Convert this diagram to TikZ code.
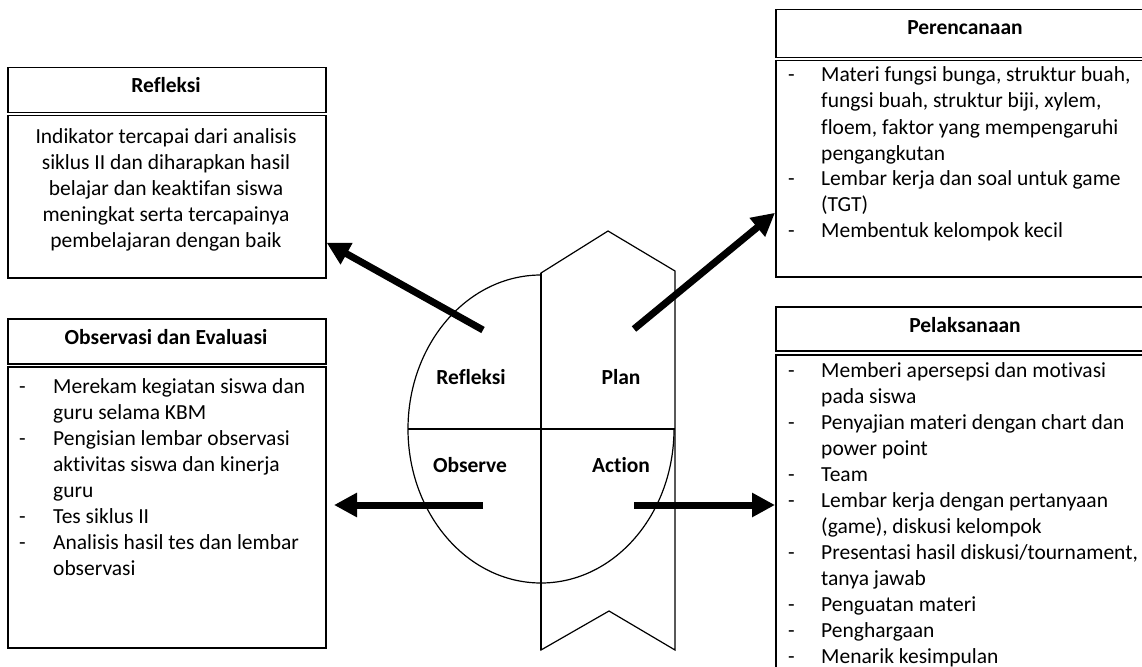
\documentclass[tikz,border=0pt]{standalone}
\usepackage{fontspec}
\setmainfont{Carlito}[Ligatures={NoCommon}]
\usetikzlibrary{arrows.meta}

\newcommand{\txtsize}{\fontsize{21.5}{26}\selectfont}
\tikzset{
  box/.style={rectangle, draw, line width=1.5pt, minimum width=318pt, anchor=north west, inner sep=0pt},
  widebox/.style={box, minimum width=380pt},
  head/.style={anchor=base, inner sep=0pt, font=\txtsize\bfseries},
  list/.style={anchor=base west, inner sep=0pt},
  bigarrow/.style={line width=7pt, -{Triangle[length=23pt,width=23pt]}},
}

\begin{document}
\begin{tikzpicture}[x=1pt, y=1pt, font=\txtsize]
\useasboundingbox (0,0) rectangle (1142,-666);
\clip (0,0) rectangle (1142,-666);

% Refleksi
\node (refTitle) [box, minimum height=45pt] at (7,-67) {};
\node (refHead) [head] at (166,-93) {Refleksi};
\node (refBody) [box, minimum height=162pt] at (7,-115) {};
\node (refText) [anchor=base, inner sep=0pt] at (166,-143) {\begin{tabular}[t]{@{}c@{}}
Indikator tercapai dari analisis\\
siklus II dan diharapkan hasil\\
belajar dan keaktifan siswa\\
meningkat serta tercapainya\\
pembelajaran dengan baik
\end{tabular}};

% Observasi dan Evaluasi
\node (obsTitle) [box, minimum height=45pt] at (7,-318) {};
\node (obsHead) [head] at (166,-344) {Observasi dan Evaluasi};
\node (obsBody) [box, minimum height=281pt] at (7,-366) {};
\node (obsText) [list] at (19,-393) {\begin{tabular}[t]{@{}p{34pt}@{}l@{}}
- & Merekam kegiatan siswa dan\\
  & guru selama KBM\\
- & Pengisian lembar observasi\\
  & aktivitas siswa dan kinerja\\
  & guru\\
- & Tes siklus II\\
- & Analisis hasil tes dan lembar\\
  & observasi
\end{tabular}};

% Perencanaan
\node (perTitle) [widebox, minimum height=48pt] at (775,-9) {};
\node (perHead) [head] at (965,-35) {Perencanaan};
\node (perBody) [widebox, minimum height=216pt] at (775,-60) {};
\node (perText) [list] at (788,-82) {\begin{tabular}[t]{@{}p{33pt}@{}l@{}}
- & Materi fungsi bunga, struktur buah,\\
  & fungsi buah, struktur biji, xylem,\\
  & floem, faktor yang mempengaruhi\\
  & pengangkutan\\
- & Lembar kerja dan soal untuk game\\
  & (TGT)\\
- & Membentuk kelompok kecil
\end{tabular}};

% Pelaksanaan
\node (pelTitle) [widebox, minimum height=44pt] at (775,-306) {};
\node (pelHead) [head] at (965,-332) {Pelaksanaan};
\node (pelBody) [widebox, minimum height=400pt] at (775,-354) {};
\node (pelText) [list] at (788,-377) {\begin{tabular}[t]{@{}p{33pt}@{}l@{}}
- & Memberi apersepsi dan motivasi\\
  & pada siswa\\
- & Penyajian materi dengan chart dan\\
  & power point\\
- & Team\\
- & Lembar kerja dengan pertanyaan\\
  & (game), diskusi kelompok\\
- & Presentasi hasil diskusi/tournament,\\
  & tanya jawab\\
- & Penguatan materi\\
- & Penghargaan\\
- & Menarik kesimpulan
\end{tabular}};

% circle and ribbon
\draw [line width=1.2pt, fill=white] (541,-273) -- (608,-231) -- (675,-271) -- (675,-650) -- (609,-611) -- (541,-650) -- cycle;
\draw [line width=1.2pt] (541,-275) arc[start angle=90, end angle=360, x radius=133, y radius=154];
\draw [line width=1.2pt] (408,-429) -- (675,-429);
\draw [line width=1.2pt] (541,-273) -- (541,-650);

\node (refLabel) [head] at (471,-384) {Refleksi};
\node (planLabel) [head] at (621,-384) {Plan};
\node (obsLabel) [head] at (470,-472) {Observe};
\node (actLabel) [head] at (621,-472) {Action};

% arrows
\coordinate (refFrom) at (483,-330);
\coordinate (planFrom) at (634,-329);
\coordinate (obsFrom) at (483,-505);
\coordinate (obsTip) at (334,-505);
\coordinate (actFrom) at (634,-505);
\draw [bigarrow] (refFrom) -- (refBody.-16.1);
\draw [bigarrow] (planFrom) -- (perBody.193.3);
\draw [bigarrow] (obsFrom) -- (obsTip);
\draw [bigarrow] (actFrom) -- (pelBody.west |- actFrom);
\end{tikzpicture}
\end{document}
